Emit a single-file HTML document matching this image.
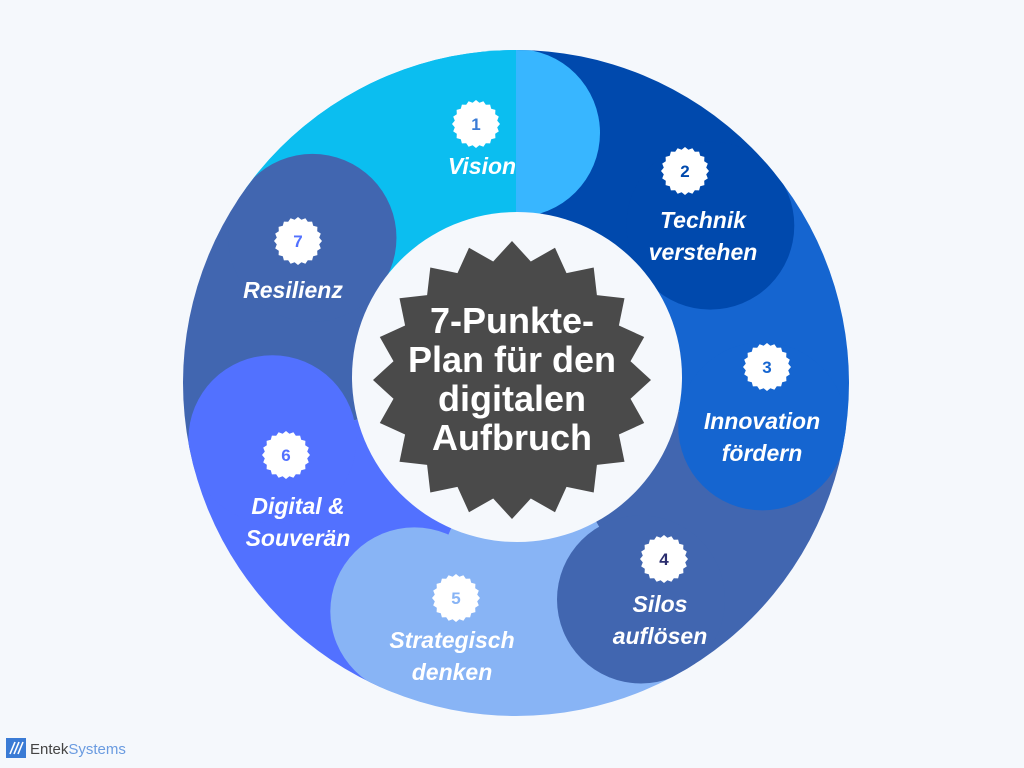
<!DOCTYPE html>
<html><head><meta charset="utf-8"><style>
html,body{margin:0;padding:0;background:#F5F8FC;}
svg{display:block}
.lbl{font-family:"Liberation Sans",sans-serif;font-weight:bold;font-style:italic;font-size:23px;fill:#fff;text-anchor:middle}
.num{font-family:"Liberation Sans",sans-serif;font-weight:bold;font-size:17px;text-anchor:middle}
.ctr{font-family:"Liberation Sans",sans-serif;font-weight:bold;font-size:36px;fill:#fff;text-anchor:middle}
</style></head><body>
<svg id="s" width="1024" height="768" viewBox="0 0 1024 768" xmlns="http://www.w3.org/2000/svg">
<defs><clipPath id="oc"><circle cx="516" cy="383" r="333"/></clipPath></defs>
<g id="ring" clip-path="url(#oc)"></g>
<circle cx="517" cy="377" r="165" fill="#F5F8FC"/>
<polygon id="star" fill="#4A4A4A"/>
<g id="badges"></g>
<text class="ctr" x="512" y="333">7-Punkte-</text>
<text class="ctr" x="512" y="372">Plan für den</text>
<text class="ctr" x="512" y="411">digitalen</text>
<text class="ctr" x="512" y="450">Aufbruch</text>

<text class="lbl" x="482" y="174">Vision</text>
<text class="lbl" x="703" y="228">Technik</text>
<text class="lbl" x="703" y="260">verstehen</text>
<text class="lbl" x="762" y="429">Innovation</text>
<text class="lbl" x="762" y="461">fördern</text>
<text class="lbl" x="660" y="612">Silos</text>
<text class="lbl" x="660" y="644">auflösen</text>
<text class="lbl" x="452" y="648">Strategisch</text>
<text class="lbl" x="452" y="680">denken</text>
<text class="lbl" x="298" y="514">Digital &amp;</text>
<text class="lbl" x="298" y="546">Souverän</text>
<text class="lbl" x="293" y="298">Resilienz</text>

<g id="nums">
<text class="num" x="476" y="130" fill="#3A7BD5">1</text>
<text class="num" x="685" y="177" fill="#0049AD">2</text>
<text class="num" x="767" y="373" fill="#1565D0">3</text>
<text class="num" x="664" y="565" fill="#2B2D6E">4</text>
<text class="num" x="456" y="604" fill="#88B4F5">5</text>
<text class="num" x="286" y="461" fill="#5271FF">6</text>
<text class="num" x="298" y="247" fill="#5271FF">7</text>
</g>

<rect x="6" y="738" width="20" height="20" fill="#3A7BD5"/>
<path d="M10 754 L15 742 M14 754 L19 742 M18 754 L23 742" stroke="#fff" stroke-width="1.6"/>
<text x="30" y="754" font-family="Liberation Sans,sans-serif" font-size="15"><tspan fill="#444">Entek</tspan><tspan fill="#6A9BE0">Systems</tspan></text>
</svg>
<script>
var NS="http://www.w3.org/2000/svg",cx=516,cy=383,R=400,lr=84,d=250;
var cols=["#0BBEF0","#0049AD","#1565D0","#4166B0","#88B4F5","#5271FF","#4166B0"];
var b=[-90,-39,10,60,114,167,215.5];
var ring=document.getElementById("ring");
function el(t,a){var e=document.createElementNS(NS,t);for(var k in a)e.setAttribute(k,a[k]);ring.appendChild(e);return e;}
function wedge(a0,a1,c){var r=Math.PI/180;el("path",{d:"M"+cx+" "+cy+" L"+(cx+R*Math.cos(a0*r))+" "+(cy+R*Math.sin(a0*r))+" A"+R+" "+R+" 0 0 1 "+(cx+R*Math.cos(a1*r))+" "+(cy+R*Math.sin(a1*r))+" Z",fill:c});}
for(var i=0;i<7;i++){wedge(b[(i+6)%7]-(i==0?360:0),b[i],cols[i]);}
function lobe(i,c){var r=Math.PI/180;el("circle",{cx:cx+d*Math.cos(b[i]*r),cy:cy+d*Math.sin(b[i]*r),r:lr,fill:c});}
lobe(0,"#38B6FF");wedge(b[6]-360,b[0],cols[0]);
for(var i=1;i<7;i++)lobe(i,cols[i]);
function starPts(x,y,n,ro,ri,off){var p=[];for(var k=0;k<2*n;k++){var a=(off+k*180/n)*Math.PI/180,rr=k%2?ri:ro;p.push((x+rr*Math.cos(a)).toFixed(1)+","+(y+rr*Math.sin(a)).toFixed(1));}return p.join(" ");}
document.getElementById("star").setAttribute("points",starPts(512,380,20,139,120,-90));
var bg=document.getElementById("badges");
[[476,124],[685,171],[767,367],[664,559],[456,598],[286,455],[298,241]].forEach(function(c){var p=document.createElementNS(NS,"polygon");p.setAttribute("points",starPts(c[0],c[1],20,24,21.5,-90));p.setAttribute("fill","#fff");bg.appendChild(p);});
</script>
</body></html>
